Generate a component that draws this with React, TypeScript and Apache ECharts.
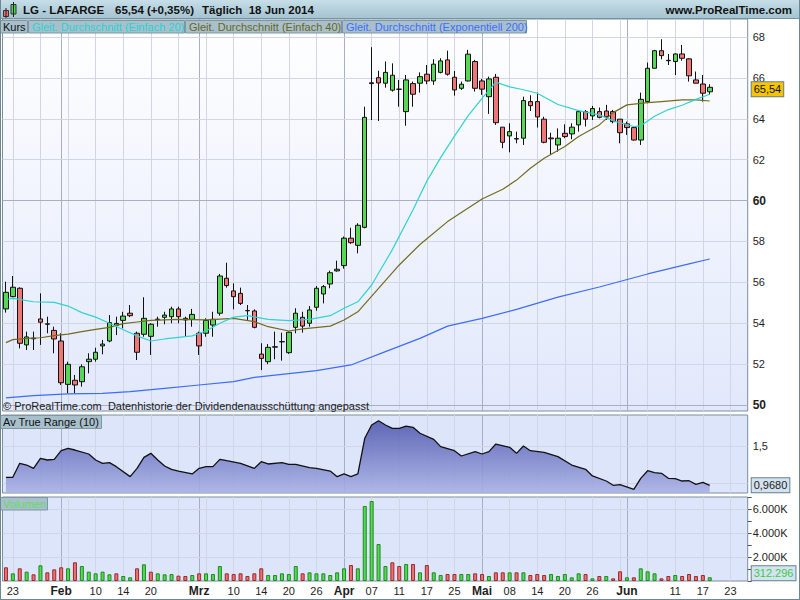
import { useEffect, useRef } from 'react';
import * as echarts from 'echarts';

const FONT = '"Liberation Sans", Arial, Helvetica, sans-serif';

// ---- trading days (Euronext Paris 2014) ----
const janDays = [22, 23, 24, 27, 28, 29, 30, 31];
const febDays = [3, 4, 5, 6, 7, 10, 11, 12, 13, 14, 17, 18, 19, 20, 21, 24, 25, 26, 27, 28];
const marDays = [3, 4, 5, 6, 7, 10, 11, 12, 13, 14, 17, 18, 19, 20, 21, 24, 25, 26, 27, 28, 31];
const aprDays = [1, 2, 3, 4, 7, 8, 9, 10, 11, 14, 15, 16, 17, 22, 23, 24, 25, 28, 29, 30];
const mayDays = [2, 5, 6, 7, 8, 9, 12, 13, 14, 15, 16, 19, 20, 21, 22, 23, 26, 27, 28, 29, 30];
const junDays = [2, 3, 4, 5, 6, 9, 10, 11, 12, 13, 16, 17, 18];
const junFutureDays = [19, 20, 23, 24, 25];

// ---- x axis tick labels ----
const tickDates = ['2014-01-23', '2014-02-03', '2014-02-10', '2014-02-14', '2014-02-20', '2014-03-03', '2014-03-10', '2014-03-14', '2014-03-20', '2014-03-26', '2014-04-01', '2014-04-07', '2014-04-11', '2014-04-17', '2014-04-25', '2014-05-02', '2014-05-08', '2014-05-14', '2014-05-20', '2014-05-26', '2014-06-02', '2014-06-11', '2014-06-17', '2014-06-23'];
const tickTexts = ['23', 'Feb', '10', '14', '20', 'Mrz', '10', '14', '20', '26', 'Apr', '07', '11', '17', '25', 'Mai', '08', '14', '20', '26', 'Jun', '11', '17', '23'];
const monthStartDates = ['2014-02-03', '2014-03-03', '2014-04-01', '2014-05-02', '2014-06-02'];
const monthNames = ['Feb', 'Mrz', 'Apr', 'Mai', 'Jun'];

// ---- y axis ticks ----
const priceTicks = [50, 52, 54, 56, 58, 60, 62, 64, 66, 68];
const priceMajorTicks = [50, 60];
const atrTicks = [1.0, 1.5];
const atrLabelTicks = [1.5];
const volumeGridTicks = [2000, 4000, 6000];

// ---- OHLC ----
const opens = [
  54.70, 55.30, 55.71, 52.94, 53.24, 54.21, 53.97, 53.65, 53.13, 51.01,
  51.21, 51.14, 52.12, 52.24, 52.89, 53.13, 53.90, 54.14, 54.49, 53.51,
  53.46, 53.36, 54.18, 54.29, 54.32, 54.70, 54.24, 54.19, 53.51, 53.51,
  53.91, 54.49, 56.20, 55.58, 55.46, 54.62, 54.60, 52.49, 52.12, 52.83,
  53.09, 52.56, 53.80, 54.29, 54.00, 54.78, 55.43, 55.92, 56.56, 56.82,
  58.16, 57.81, 58.69, 65.76, 66.01, 65.74, 65.40, 65.45, 64.35, 65.72,
  65.74, 66.18, 65.85, 66.27, 66.88, 66.03, 65.49, 65.85, 66.80, 65.85,
  65.08, 66.03, 63.59, 63.16, 63.03, 63.05, 64.84, 64.84, 63.98, 63.06,
  62.72, 63.29, 63.26, 63.70, 64.35, 64.14, 64.35, 64.38, 64.35, 63.98,
  63.75, 63.57, 62.96, 64.84, 66.47, 67.33, 66.86, 66.80, 67.17, 66.93,
  65.90, 65.70, 65.32,
];
const closes = [
  55.51, 55.76, 53.02, 53.33, 53.27, 54.05, 53.95, 53.23, 51.09, 51.99,
  50.98, 51.87, 52.24, 52.58, 52.98, 54.03, 53.99, 54.35, 54.37, 52.58,
  54.24, 53.95, 54.20, 54.40, 54.70, 54.32, 54.16, 54.43, 52.89, 54.14,
  54.19, 56.31, 55.84, 55.30, 54.97, 54.61, 53.80, 52.28, 52.82, 52.85,
  53.10, 53.56, 54.49, 53.86, 54.65, 55.71, 55.79, 56.47, 56.64, 58.16,
  57.94, 58.79, 64.07, 65.72, 65.75, 66.27, 66.13, 65.44, 65.90, 65.20,
  66.06, 65.85, 66.67, 66.83, 66.18, 65.41, 65.69, 67.16, 65.49, 65.45,
  65.95, 63.81, 62.85, 63.37, 63.01, 64.89, 64.64, 64.09, 62.85, 63.02,
  63.05, 63.13, 63.59, 64.35, 63.98, 64.50, 64.07, 64.10, 63.86, 63.32,
  63.57, 62.96, 64.95, 66.47, 67.33, 67.09, 66.84, 67.17, 66.96, 66.10,
  65.74, 65.25, 65.54,
];
const lows = [
  54.52, 55.27, 52.77, 52.69, 52.69, 52.94, 53.51, 52.53, 50.98, 50.57,
  50.57, 50.90, 51.55, 52.12, 52.48, 53.07, 53.42, 53.75, 54.30, 52.20,
  53.34, 52.45, 53.83, 53.95, 54.00, 54.00, 53.34, 53.83, 52.45, 53.34,
  53.34, 54.37, 55.74, 54.68, 54.89, 54.16, 53.75, 51.71, 52.00, 52.24,
  52.17, 52.50, 53.51, 53.54, 53.83, 54.61, 54.97, 55.71, 56.52, 56.67,
  57.88, 57.42, 58.64, 63.94, 63.89, 65.52, 65.33, 64.59, 63.66, 64.59,
  65.28, 65.69, 65.66, 66.22, 66.11, 65.13, 65.41, 65.82, 65.33, 65.17,
  64.24, 63.70, 62.56, 62.36, 62.80, 62.72, 64.38, 63.57, 62.80, 62.23,
  62.39, 63.05, 63.00, 63.37, 63.62, 63.94, 64.02, 63.94, 63.78, 62.80,
  63.21, 62.93, 62.72, 64.76, 66.47, 66.91, 66.63, 66.14, 66.84, 65.82,
  65.74, 64.84, 65.17,
];
const highs = [
  56.03, 56.31, 55.76, 53.59, 53.59, 55.46, 54.32, 53.83, 53.51, 52.12,
  51.47, 51.99, 52.53, 52.80, 53.18, 54.40, 54.32, 54.56, 54.89, 53.59,
  55.27, 54.00, 54.32, 54.56, 54.81, 54.81, 54.32, 54.70, 53.59, 54.24,
  54.56, 56.41, 56.96, 55.95, 55.74, 54.89, 54.68, 53.02, 52.98, 53.59,
  53.54, 53.59, 54.73, 54.56, 54.84, 55.82, 55.87, 56.57, 57.06, 58.24,
  58.67, 58.89, 64.59, 67.50, 66.35, 66.80, 66.71, 65.90, 66.14, 65.82,
  66.27, 66.63, 66.91, 66.96, 67.33, 66.34, 65.82, 67.37, 66.88, 65.95,
  66.06, 66.19, 63.59, 63.78, 63.37, 65.08, 65.15, 65.28, 64.10, 63.32,
  63.53, 63.73, 63.78, 64.43, 64.43, 64.63, 64.55, 64.68, 64.43, 63.98,
  63.86, 63.62, 65.28, 66.75, 67.37, 67.89, 67.17, 67.20, 67.61, 66.96,
  66.31, 66.14, 65.69,
];

// ---- moving averages: [category index, value] ----
const sma20 = [[0, 55.16], [1, 55.22], [4, 55.05], [7, 55.02], [9, 54.84], [11, 54.52], [13, 54.3], [15, 54.0], [17, 53.68], [19, 53.38], [21, 53.13], [23, 53.23], [25, 53.31], [27, 53.38], [29, 53.62], [31, 54.0], [33, 54.3], [35, 54.37], [38, 54.19], [41, 54.13], [44, 54.19], [47, 54.37], [49, 54.73], [51, 55.05], [53, 55.87], [56, 57.6], [59, 59.55], [61, 60.95], [63, 62.1], [65, 63.15], [67, 64.15], [69, 65.0], [71, 65.79], [73, 65.56], [75, 65.42], [77, 65.25], [80, 64.7], [83, 64.4], [86, 64.19], [88, 63.9], [91, 63.62], [92, 63.66], [94, 64.12], [96, 64.45], [98, 64.66], [100, 64.95], [102, 65.2]];
const sma40 = [[0, 53.05], [1, 53.2], [3, 53.26], [5, 53.29], [7, 53.39], [9, 53.47], [11, 53.59], [13, 53.7], [15, 53.8], [17, 53.98], [19, 54.06], [21, 54.14], [25, 54.19], [29, 54.16], [33, 54.24], [36, 54.08], [38, 53.83], [41, 53.62], [43, 53.72], [47, 53.86], [49, 54.16], [51, 54.56], [54, 55.7], [57, 56.85], [60, 57.85], [64, 58.97], [69, 60.08], [72, 60.55], [74, 61.0], [76, 61.58], [78, 62.07], [81, 62.64], [83, 63.13], [86, 63.7], [88, 64.3], [90, 64.68], [93, 64.79], [95, 64.84], [98, 64.92], [100, 64.92], [102, 64.87]];
const ema200 = [[0, 50.35], [4, 50.46], [9, 50.54], [14, 50.57], [18, 50.65], [23, 50.81], [28, 50.98], [33, 51.14], [36, 51.35], [40, 51.5], [45, 51.68], [50, 51.96], [55, 52.61], [60, 53.26], [64, 53.86], [69, 54.24], [74, 54.68], [80, 55.28], [86, 55.77], [93, 56.41], [99, 56.9], [102, 57.14]];

// ---- Average True Range (10): [category index, value] ----
const atr10 = [[0, 1.077], [1, 1.077], [2, 1.266], [3, 1.243], [4, 1.198], [5, 1.333], [6, 1.311], [7, 1.32], [8, 1.437], [9, 1.469], [10, 1.446], [12, 1.392], [13, 1.311], [14, 1.266], [15, 1.275], [16, 1.221], [18, 1.086], [19, 1.198], [20, 1.347], [21, 1.401], [22, 1.311], [23, 1.23], [24, 1.185], [25, 1.162], [27, 1.122], [28, 1.198], [29, 1.221], [30, 1.221], [31, 1.32], [32, 1.301], [34, 1.266], [36, 1.198], [37, 1.288], [38, 1.257], [40, 1.275], [41, 1.253], [42, 1.253], [44, 1.207], [45, 1.198], [47, 1.162], [48, 1.086], [49, 1.122], [50, 1.086], [51, 1.122], [52, 1.604], [53, 1.784], [54, 1.842], [55, 1.784], [56, 1.739], [57, 1.739], [58, 1.77], [59, 1.752], [60, 1.672], [62, 1.59], [63, 1.491], [65, 1.437], [66, 1.365], [68, 1.424], [69, 1.392], [70, 1.424], [71, 1.527], [73, 1.482], [74, 1.401], [75, 1.5], [76, 1.437], [78, 1.414], [80, 1.356], [82, 1.243], [84, 1.185], [85, 1.095], [87, 1.027], [88, 0.969], [89, 0.977], [91, 0.914], [92, 1.063], [93, 1.166], [94, 1.14], [95, 1.131], [96, 1.063], [97, 1.058], [98, 1.027], [99, 1.031], [100, 0.982], [101, 1.009], [102, 0.968]];

// ---- volume in thousands ----
const volumes = [
  1142, 639, 1058, 778, 556, 1308, 722, 972, 1142, 1058,
  1558, 1250, 778, 639, 778, 556, 639, 417, 306, 1058,
  1392, 778, 639, 556, 580, 444, 417, 500, 639, 639,
  580, 1250, 639, 580, 639, 417, 639, 1058, 500, 500,
  639, 580, 1250, 639, 722, 639, 639, 500, 722, 1058,
  1333, 1058, 6250, 6667, 3083, 1250, 1558, 1250, 1417, 1417,
  722, 1333, 722, 500, 583, 583, 583, 583, 639, 583,
  417, 722, 722, 722, 722, 722, 500, 583, 500, 583,
  417, 583, 306, 639, 583, 222, 417, 417, 222, 806,
  306, 306, 1056, 806, 639, 222, 417, 500, 417, 583,
  417, 500, 312.296,
];

const pad = (d: number) => (d < 10 ? '0' + d : String(d));
const categories: string[] = [
  ...janDays.map((d) => `2014-01-${pad(d)}`),
  ...febDays.map((d) => `2014-02-${pad(d)}`),
  ...marDays.map((d) => `2014-03-${pad(d)}`),
  ...aprDays.map((d) => `2014-04-${pad(d)}`),
  ...mayDays.map((d) => `2014-05-${pad(d)}`),
  ...junDays.map((d) => `2014-06-${pad(d)}`),
  ...junFutureDays.map((d) => `2014-06-${pad(d)}`),
];

const deNum = (v: number, digits: number) => v.toFixed(digits).replace('.', ',');
const deThousands = (v: number) => String(Math.round(v)).replace(/\B(?=(\d{3})+(?!\d))/g, '.');

const GRID_LEFT = 2.5;
const GRID_RIGHT = 52.3;
const MINOR = '#d2d5e5';
const MAJOR = '#a9aec4';
const CANDLE_UP = '#57d657';
const CANDLE_DOWN = '#ef7676';

function buildOption() {
  const n = opens.length;
  const candleData = opens.map((o, i) => [o, closes[i], lows[i], highs[i]]);
  const labelMap: Record<string, string> = {};
  tickDates.forEach((d, i) => (labelMap[d] = tickTexts[i]));
  const labelIdx = new Set(tickDates.map((d) => categories.indexOf(d)));

  const minorIdx = categories.map((_, i) => i).filter((i) => i % 4 === 1);
  const vLines = (minorColor: string, majorColor: string) => [
    ...minorIdx.map((i) => ({ xAxis: categories[i], lineStyle: { color: minorColor, width: 1, type: 'solid' } })),
    ...monthStartDates.map((d) => ({ xAxis: d, lineStyle: { color: majorColor, width: 1, type: 'solid' } })),
  ];
  const axisLabelStyle = { color: '#1e1e1e', fontSize: 11, fontFamily: FONT, position: 'end', distance: 5, lineHeight: 10 };
  const hLine = (v: number, color: string, label: string | null, bold = false) => ({
    yAxis: v,
    lineStyle: { color, width: 1, type: 'solid' },
    label: label
      ? { show: true, formatter: label, ...axisLabelStyle, fontWeight: bold ? 'bold' : 'normal', fontSize: bold ? 12 : 11 }
      : { show: false },
  });
  const gridMarkLine = (data: any[], z = 1) => ({
    silent: true,
    symbol: ['none', 'none'],
    animation: false,
    z,
    label: { show: false },
    emphasis: { disabled: true },
    data,
  });
  const valueBox = (v: number, text: string, bg: string, fg: string, offsetY = 0) => ({
    silent: true,
    symbol: ['none', 'none'],
    animation: false,
    emphasis: { disabled: true },
    z: 10,
    lineStyle: { color: 'rgba(0,0,0,0)', width: 0 },
    data: [
      {
        yAxis: v,
        lineStyle: { color: 'rgba(0,0,0,0)', width: 0 },
        label: {
          show: true,
          position: 'end',
          distance: 4,
          formatter: text,
          backgroundColor: bg,
          borderColor: '#667f8e',
          borderWidth: 1,
          padding: [2, 2, 1, 2],
          lineHeight: 11,
          color: fg,
          fontSize: 11,
          fontFamily: FONT,
          offset: [0, offsetY],
        },
      },
    ],
  });

  const nullData = categories.map(() => null);
  const xBase = (gridIndex: number, showLabels: boolean) => ({
    type: 'category',
    gridIndex,
    data: categories,
    boundaryGap: true,
    axisLine: { show: false },
    axisTick: { show: false },
    splitLine: { show: false },
    axisLabel: showLabels
      ? {
          show: true,
          interval: (index: number) => labelIdx.has(index),
          formatter: (value: string) => {
            const t = labelMap[value] ?? '';
            return monthNames.includes(t) ? `{m|${t}}` : t;
          },
          color: '#1e1e1e',
          fontSize: 11,
          fontFamily: FONT,
          margin: 4,
          rich: { m: { fontWeight: 'bold', fontSize: 12, fontFamily: FONT, color: '#1e1e1e' } },
        }
      : { show: false },
  });
  const yHidden = (gridIndex: number, min: number, max: number) => ({
    type: 'value',
    gridIndex,
    min,
    max,
    position: 'right',
    axisLine: { show: false },
    axisTick: { show: false },
    axisLabel: { show: false },
    splitLine: { show: false },
  });

  const volumeData = volumes.map((v, i) => {
    const up = i > 0 && closes[i] >= closes[i - 1];
    return {
      value: v,
      itemStyle: {
        color: up ? '#55d855' : '#ee7070',
        borderColor: up ? '#1f8a1f' : '#9a2a2a',
        borderWidth: 1,
      },
    };
  });

  const lastClose = closes[n - 1];
  const lastAtr = atr10[atr10.length - 1][1];
  const lastVol = volumes[n - 1];

  const maLine = (data: number[][], color: string) => ({
    type: 'line',
    xAxisIndex: 0,
    yAxisIndex: 0,
    data,
    symbol: 'none',
    smooth: false,
    silent: true,
    z: 4,
    lineStyle: { color, width: 1.2 },
    emphasis: { disabled: true },
  });

  const rect = (x: number, y: number, w: number, h: number, fill: any, stroke?: string) => ({
    type: 'rect',
    silent: true,
    z: 100,
    shape: { x, y, width: w, height: h },
    style: { fill, stroke: stroke ?? 'none', lineWidth: 1 },
  });
  const text = (x: number, y: number, t: string, fill = '#111', size = 11, weight = 'normal', align = 'left') => ({
    type: 'text',
    silent: true,
    z: 101,
    x,
    y,
    style: {
      text: t,
      fill,
      fontSize: size,
      fontWeight: weight,
      fontFamily: FONT,
      align,
      textAlign: align,
      verticalAlign: 'middle',
      textVerticalAlign: 'middle',
    },
  });
  const line = (x1: number, y1: number, x2: number, y2: number, stroke: string, w = 1) => ({
    type: 'line',
    silent: true,
    z: 101,
    shape: { x1, y1, x2, y2 },
    style: { stroke, lineWidth: w },
  });

  const boxFill = '#a8c0cc';
  const boxStroke = '#7f97a4';

  return {
    animation: false,
    backgroundColor: '#ffffff',
    textStyle: { fontFamily: FONT },
    grid: [
      {
        left: GRID_LEFT, right: GRID_RIGHT, top: 19, height: 392, show: true,
        backgroundColor: new echarts.graphic.LinearGradient(0, 0, 0, 1, [
          { offset: 0, color: '#ffffff' },
          { offset: 1, color: '#e1e8fb' },
        ]),
        borderColor: '#7b8f9b', borderWidth: 1, containLabel: false, outerBoundsMode: 'none',
      },
      {
        left: GRID_LEFT, right: GRID_RIGHT, top: 415, height: 78, show: true,
        backgroundColor: '#dde5fa', borderColor: '#7b8f9b', borderWidth: 1, containLabel: false, outerBoundsMode: 'none',
      },
      {
        left: GRID_LEFT, right: GRID_RIGHT, top: 497, height: 84, show: true,
        backgroundColor: '#dde5fa', borderColor: '#7b8f9b', borderWidth: 1, containLabel: false, outerBoundsMode: 'none',
      },
    ],
    xAxis: [xBase(0, false), xBase(1, false), xBase(2, true)],
    yAxis: [
      yHidden(0, 49.707, 68.88),
      yHidden(1, 0.865, 1.919),
      {
        type: 'value',
        gridIndex: 2,
        min: 0,
        max: 7000,
        interval: 1000,
        position: 'right',
        axisLine: { show: false },
        axisTick: { show: true, length: 4, lineStyle: { color: '#555' } },
        splitLine: { show: false },
        axisLabel: {
          show: true,
          margin: 5,
          color: '#1e1e1e',
          fontSize: 11,
          fontFamily: FONT,
          formatter: (v: number) => (v > 0 && v % 2000 === 0 ? `${v / 1000}.000K` : ''),
        },
      },
    ],
    series: [
      // price panel grid lines and axis labels
      {
        type: 'line', xAxisIndex: 0, yAxisIndex: 0, data: nullData, silent: true, clip: false, z: 1,
        symbol: 'none',
        markLine: gridMarkLine([
          ...vLines(MINOR, MAJOR),
          ...priceTicks.map((v) =>
            hLine(v, priceMajorTicks.includes(v) ? MAJOR : MINOR, String(v), priceMajorTicks.includes(v))
          ),
        ]),
      },
      {
        type: 'candlestick',
        xAxisIndex: 0,
        yAxisIndex: 0,
        data: candleData,
        barWidth: 5,
        clip: false,
        z: 3,
        silent: true,
        itemStyle: {
          color: CANDLE_UP,
          color0: CANDLE_DOWN,
          borderColor: '#111111',
          borderColor0: '#111111',
          borderWidth: 1,
        },
        emphasis: { disabled: true },
        markLine: valueBox(lastClose, deNum(lastClose, 2), '#f6c500', '#111', 2),
      },
      maLine(ema200, '#3d6bff'),
      maLine(sma40, '#726c1e'),
      maLine(sma20, '#2fd3d3'),
      // ATR panel
      {
        type: 'line', xAxisIndex: 1, yAxisIndex: 1, data: nullData, silent: true, clip: false, z: 1,
        symbol: 'none',
        markLine: gridMarkLine([
          ...vLines(MINOR, MAJOR),
          ...atrTicks.map((v) => hLine(v, MINOR, atrLabelTicks.includes(v) ? deNum(v, 1) : null)),
        ]),
      },
      {
        type: 'line',
        xAxisIndex: 1,
        yAxisIndex: 1,
        data: atr10,
        symbol: 'none',
        silent: true,
        clip: false,
        z: 3,
        lineStyle: { color: '#111', width: 1.3 },
        areaStyle: {
          opacity: 0.88,
          color: new echarts.graphic.LinearGradient(0, 0, 0, 1, [
            { offset: 0, color: '#4d55ad' },
            { offset: 1, color: '#a9b1e6' },
          ]),
        },
        emphasis: { disabled: true },
        markLine: valueBox(lastAtr, deNum(lastAtr, 4), '#d4e1ee', '#222'),
      },
      // volume panel
      {
        type: 'line', xAxisIndex: 2, yAxisIndex: 2, data: nullData, silent: true, clip: false, z: 1,
        symbol: 'none',
        markLine: gridMarkLine([...vLines(MINOR, MAJOR), ...volumeGridTicks.map((v) => hLine(v, MINOR, null))]),
      },
      {
        type: 'bar',
        xAxisIndex: 2,
        yAxisIndex: 2,
        data: volumeData,
        barWidth: 4,
        silent: true,
        clip: false,
        z: 3,
        emphasis: { disabled: true },
        markLine: valueBox(lastVol, deThousands(lastVol * 1000), '#d3e3f3', '#3ccc3c', -4),
      },
    ],
    graphic: [
      // header bar
      rect(0, 0, 800, 19, new echarts.graphic.LinearGradient(0, 0, 0, 1, [
        { offset: 0, color: '#c6dee8' },
        { offset: 1, color: '#a3c2cf' },
      ])),
      line(0, 18.5, 800, 18.5, '#7693a0'),
      // icon
      line(6, 8, 6, 18, '#222'),
      rect(3.5, 10.5, 5, 6, '#ee6c6c', '#333'),
      line(13.5, 2, 13.5, 17, '#222'),
      rect(11, 4.5, 5, 9.5, '#4fd44f', '#333'),
      text(23, 10, 'LG - LAFARGE', '#111', 11.5, 'bold'),
      text(115, 10, '65,54 (+0,35%)', '#111', 11.5, 'bold'),
      text(202, 10, 'Täglich  18 Jun 2014', '#111', 11.5, 'bold'),
      text(792, 10, 'www.ProRealTime.com', '#111', 11.5, 'bold', 'right'),
      // legend boxes
      rect(0.5, 20.5, 27, 12.5, boxFill, boxStroke),
      text(3, 27, 'Kurs', '#111', 11),
      rect(28.5, 20.5, 156, 12.5, boxFill, boxStroke),
      text(32, 27, 'Gleit. Durchschnitt (Einfach 20)', '#28d2d2', 11),
      rect(185.5, 20.5, 156, 12.5, boxFill, boxStroke),
      text(189, 27, 'Gleit. Durchschnitt (Einfach 40)', '#6b661a', 11),
      rect(342.5, 20.5, 184, 12.5, boxFill, boxStroke),
      text(346, 27, 'Gleit. Durchschnitt (Exponentiell 200)', '#3f6dff', 11),
      // copyright
      text(3, 406, '© ProRealTime.com  Datenhistorie der Dividendenausschüttung angepasst', '#222', 11),
      // ATR / volume titles
      rect(0.5, 415.5, 101, 13, boxFill, boxStroke),
      text(3, 422, 'Av True Range (10)', '#111', 11),
      rect(0.5, 497.5, 47, 12.5, boxFill, boxStroke),
      text(3, 504, 'Volumen', '#62dc62', 11),
      // outer frame
      line(0.5, 0, 0.5, 600, '#6d8794'),
      line(799.5, 0, 799.5, 600, '#6d8794'),
      line(0, 599.5, 800, 599.5, '#6d8794'),
    ],
  };
}

export default function App() {
  const ref = useRef<HTMLDivElement>(null);
  useEffect(() => {
    document.body.style.margin = '0';
    const chart = echarts.init(ref.current as HTMLDivElement, null, { renderer: 'svg' });
    chart.setOption(buildOption() as any);
    return () => chart.dispose();
  }, []);
  return <div ref={ref} style={{ width: 800, height: 600 }} />;
}
